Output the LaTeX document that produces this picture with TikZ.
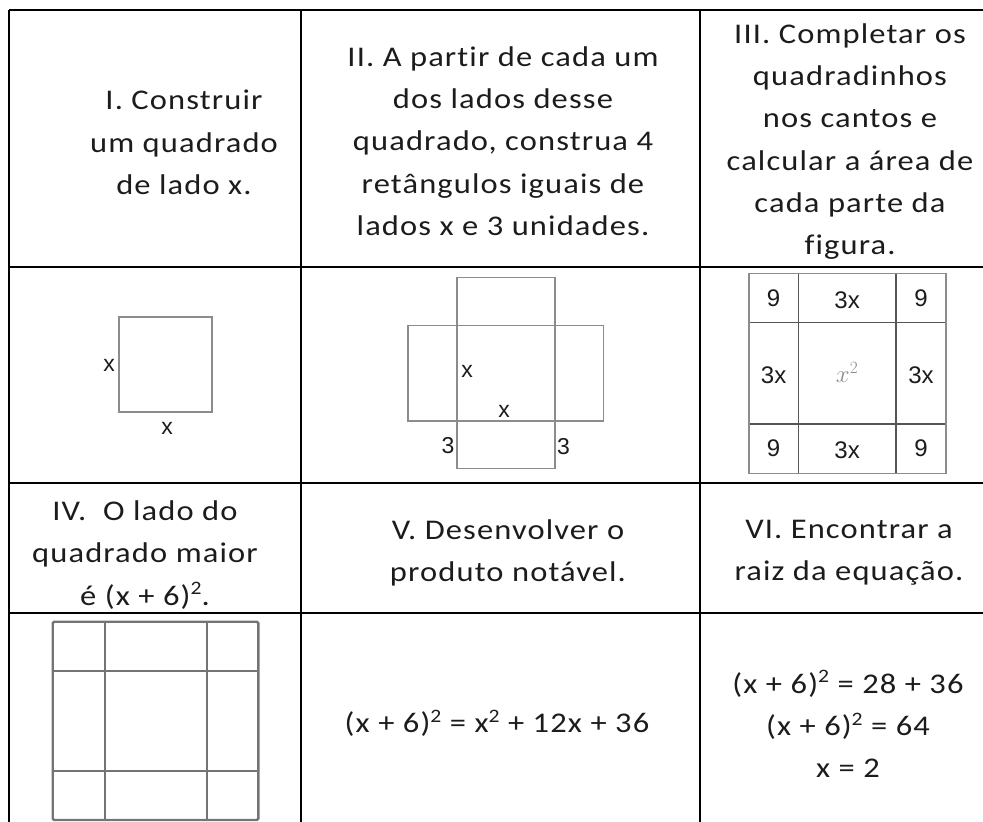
\documentclass[tikz,border=0pt]{standalone}
\usepackage{fontspec}
\setmainfont{Carlito}[LetterSpace=4,FakeStretch=1.14,Ligatures=NoCommon]
\newfontfamily\arialf{Liberation Sans}
\definecolor{txt}{HTML}{1C1C1C}
\definecolor{figline}{HTML}{8C8C8C}
\definecolor{figdark}{HTML}{555555}
\definecolor{figiv}{HTML}{747474}
\newcommand{\sqr}{\raisebox{0.36em}{\fontsize{19}{19}\selectfont 2}}
\tikzset{
  tbl/.style={line width=1.8pt, black},
  hdr/.style={align=center, text=txt, inner sep=0pt, font=\fontsize{28.5}{42.3}\selectfont},
  figa/.style={line width=1.6pt, figline},
  figb/.style={line width=1.3pt, figdark},
  figc/.style={line width=2.4pt, figiv, rounded corners=1.5pt},
  lbl/.style={inner sep=0pt, text=txt, font=\arialf\fontsize{23}{26}\selectfont},
  lbls/.style={inner sep=0pt, text=txt, font=\arialf\fontsize{24}{26}\selectfont},
}
\begin{document}
\begin{tikzpicture}[x=1pt,y=-1pt]
\useasboundingbox (0,0) rectangle (983,822);
\fill[white] (0,0) rectangle (983,822);
% table grid
\foreach \yy in {10,267,483,613} \draw[tbl] (9,\yy) -- (995,\yy);
\foreach \xx in {9,301,700} \draw[tbl] (\xx,10) -- (\xx,830);
% header texts
\node[hdr] (t1) at (184,142.5) {I. Construir\\um quadrado\\de lado x.};
\node[hdr] (t2) at (503,141) {II. A partir de cada um\\dos lados desse\\quadrado, construa 4\\retângulos iguais de\\lados x e 3 unidades.};
\node[hdr] (t3) at (850,141.5) {III. Completar os\\quadradinhos\\nos cantos e\\calcular a área de\\cada parte da\\figura.};
\node[hdr] (t4) at (145,555) {IV.\ \ O lado do\\quadrado maior\\é (x + 6)\sqr.};
\node[hdr] (t5) at (508,553) {V. Desenvolver o\\produto notável.};
\node[hdr] (t6) at (849,553) {VI. Encontrar a\\raiz da equação.};
\node[hdr] (e5) at (497,723) {(x + 6)\sqr{} = x\sqr{} + 12x + 36};
\node[hdr] (e6) at (848,724) {(x + 6)\sqr{} = 28 + 36\\(x + 6)\sqr{} = 64\\x = 2};
% figure I
\draw[figa] (119,317) rectangle (212,412);
\node[lbl] (a1) at (109,365) {x};
\node[lbl] (a2) at (167,428) {x};
% figure II
\draw[figa] (456.7,277.3) rectangle (555,325.3);
\draw[figa] (407.7,325.3) rectangle (603.3,420.7);
\draw[figa] (456.7,325.3) -- (456.7,420.7) (555,325.3) -- (555,420.7);
\draw[figa] (456.7,420.7) rectangle (555,468.3);
\node[lbl] (b1) at (467,371) {x};
\node[lbl] (b2) at (504,411) {x};
\node[lbl] (b3) at (448,446) {3};
\node[lbl] (b4) at (563.5,447) {3};
% figure III
\draw[figb] (798.3,273.3) -- (798.3,473.3) (896,273.3) -- (896,473.3)
            (749,322.7) -- (946,322.7) (749,424) -- (946,424);
\draw[figa, line width=1.4pt] (749,273.3) rectangle (946,473.3);
\node[lbls] (c1) at (773.6,298) {9};
\node[lbls] (c2) at (847.1,300) {3x};
\node[lbls] (c3) at (921,298) {9};
\node[lbls] (c4) at (773.6,375) {3x};
\node[inner sep=0pt, text=figline, font=\fontsize{27}{30}\selectfont] (c5) at (847.1,372) {$x^2$};
\node[lbls] (c6) at (921,375) {3x};
\node[lbls] (c7) at (773.6,448.6) {9};
\node[lbls] (c8) at (847.1,450) {3x};
\node[lbls] (c9) at (921,448.6) {9};
% figure IV
\draw[figc] (52.7,621.7) rectangle (258.3,820);
\draw[figc] (105,621.7) -- (105,820) (206.7,621.7) -- (206.7,820)
            (52.7,671) -- (258.3,671) (52.7,771) -- (258.3,771);
\end{tikzpicture}
\end{document}
